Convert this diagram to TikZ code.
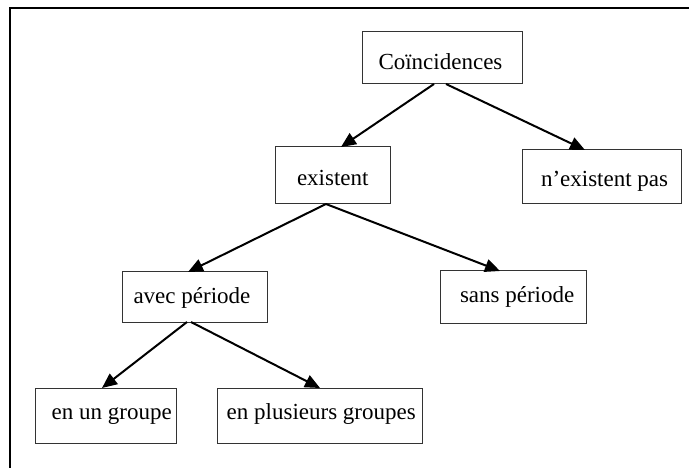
\documentclass[tikz,border=0pt]{standalone}
\usepackage{fontspec}
\setmainfont{Liberation Serif}
\usetikzlibrary{arrows.meta,calc}

\tikzset{
  box/.style={draw=black!80, line width=1pt, inner sep=0pt, outer sep=0pt},
  lbl/.style={inner sep=0pt, outer sep=0pt, anchor=base west,
              font=\fontsize{23}{27}\selectfont},
  arr/.style={line width=2pt, -{Triangle[length=15pt,width=13pt]}},
  frame/.style={line width=2.6pt, line cap=rect}
}

\begin{document}
\begin{tikzpicture}[x=1pt,y=-1pt]
  \useasboundingbox (0,0) rectangle (689,468);

  % outer frame (top and left edges)
  \draw[frame] (689,8) -| (10,468);

  % boxes
  \node[box, minimum width=160pt, minimum height=52pt] (coin)   at (442,58)    {};
  \node[box, minimum width=115pt, minimum height=57pt] (exist)  at (332.5,175.5) {};
  \node[box, minimum width=159pt, minimum height=54pt] (nexist) at (601.5,177) {};
  \node[box, minimum width=145pt, minimum height=50pt] (avec)   at (194.5,297) {};
  \node[box, minimum width=146pt, minimum height=52pt] (sans)   at (513,297)   {};
  \node[box, minimum width=141pt, minimum height=55pt] (un)     at (105.5,415.5) {};
  \node[box, minimum width=205pt, minimum height=55pt] (plus)   at (319.5,415.5) {};

  % labels
  \node[lbl] (tcoin)   at (378.5,70) {Coïncidences};
  \node[lbl] (texist)  at (297,186)  {existent};
  \node[lbl] (tnexist) at (541,187)  {n’existent pas};
  \node[lbl] (tavec)   at (133.5,303) {avec période};
  \node[lbl] (tsans)   at (460,302)  {sans période};
  \node[lbl] (tun)     at (51.7,419) {en un groupe};
  \node[lbl] (tplus)   at (226.7,419) {en plusieurs groupes};

  % connectors
  \draw[arr] ($(coin.south)+(-8,0)$)   -- ($(exist.north)+(8.5,0)$);
  \draw[arr] ($(coin.south)+(4,0)$)    -- ($(nexist.north)+(-16.5,0)$);
  \draw[arr] ($(exist.south)+(-6.5,0)$) -- ($(avec.north)+(-6.5,0)$);
  \draw[arr] ($(exist.south)+(-6.5,0)$) -- ($(sans.north)+(-13,0)$);
  \draw[arr] ($(avec.south)+(-7.5,0)$)  -- ($(un.north)+(-3.5,0)$);
  \draw[arr] ($(avec.south)+(-3.5,0)$)  -- ($(plus.north)+(0.5,0)$);
\end{tikzpicture}
\end{document}
